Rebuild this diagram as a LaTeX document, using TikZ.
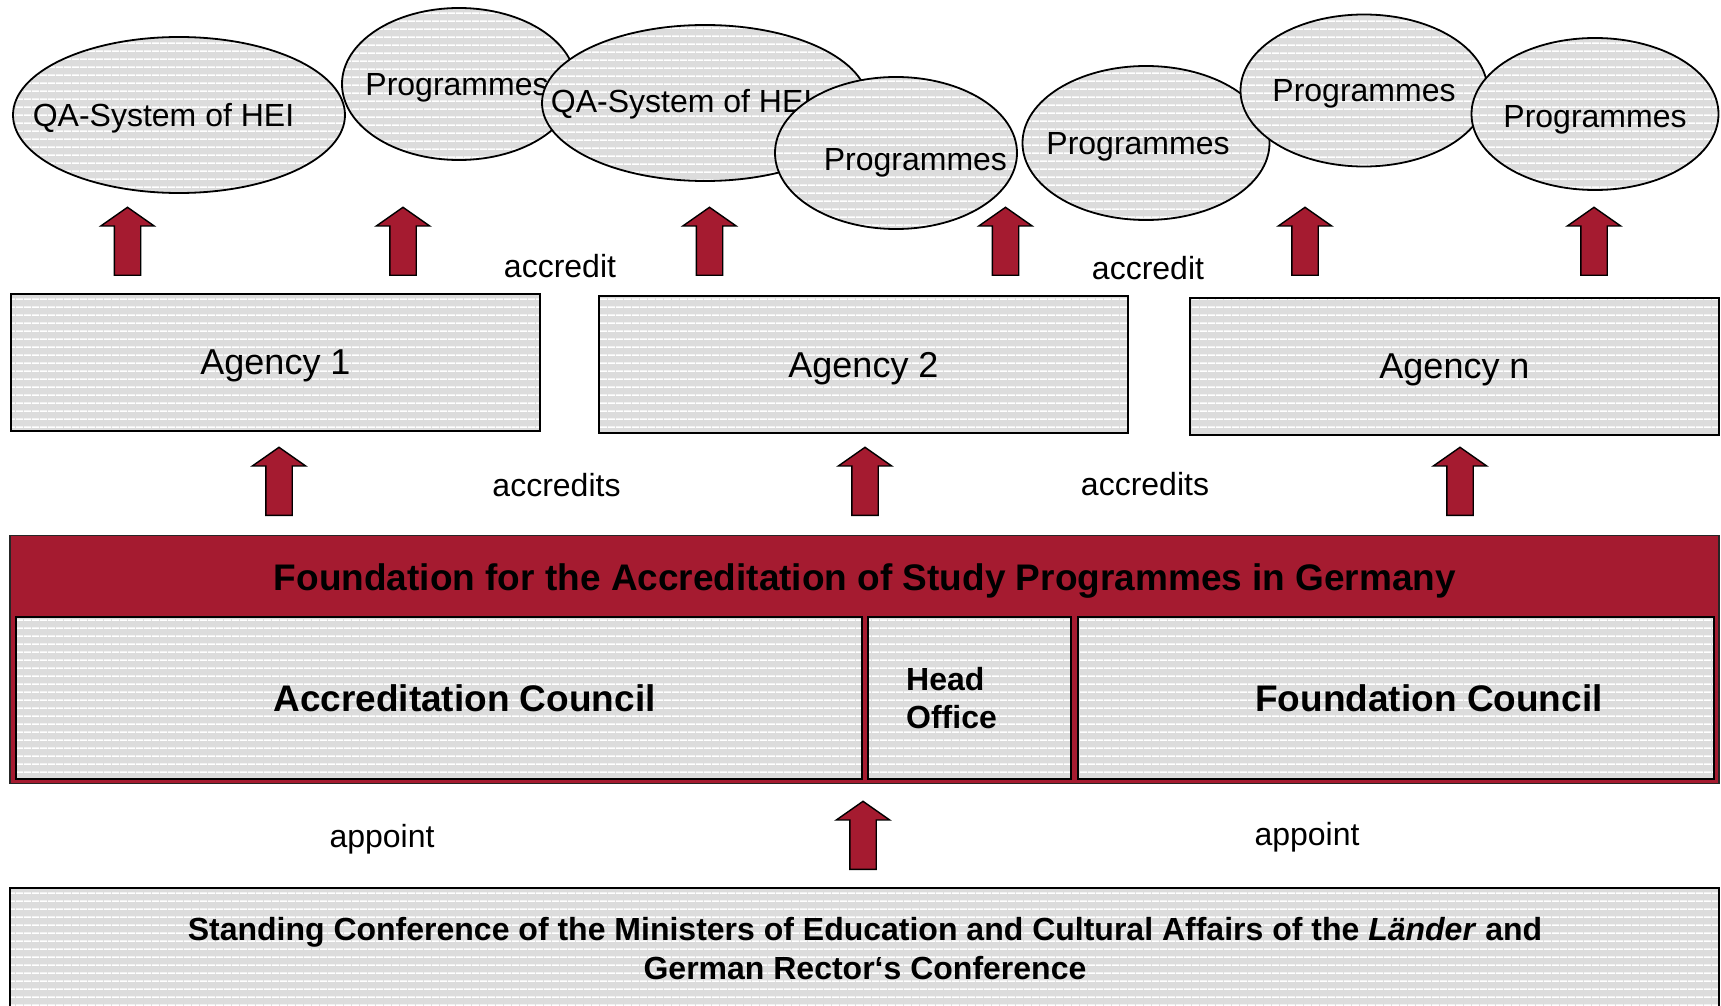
\documentclass[tikz,border=0pt]{standalone}
\usepackage{fontspec}
\setmainfont{Liberation Sans}
\usetikzlibrary{shapes.geometric, shapes.arrows, patterns, positioning}

\definecolor{fadred}{RGB}{165,27,48}
\definecolor{stripegray}{RGB}{220,220,220}

\pgfdeclarepatternformonly{hstripes}{\pgfpointorigin}{\pgfpoint{4pt}{3.75pt}}{\pgfpoint{4pt}{3.75pt}}%
{\pgfpathrectangle{\pgfpointorigin}{\pgfpoint{4pt}{0.8pt}}\pgfusepath{fill}}

\begin{document}
\begin{tikzpicture}[x=0.5pt, y=-0.5pt]
        \tikzstyle{striped} = [preaction={fill=stripegray}, pattern=hstripes, pattern color=white]
        \tikzstyle{txt} = [font=\fontsize{16}{19}\selectfont, text depth=0pt]
        \tikzstyle{bigbold} = [font=\bfseries\fontsize{18.5}{22}\selectfont, text depth=0pt]
        \tikzstyle{hei} = [ellipse, draw, line width=0.9pt, striped, inner sep=0pt]
        \tikzstyle{agency} = [rectangle, draw, line width=0.9pt, striped, minimum width=264.5pt, minimum height=68.5pt, text depth=0pt, font=\fontsize{18}{22}\selectfont]
        \tikzstyle{council} = [rectangle, draw, line width=1pt, striped, minimum height=81pt]
        \tikzstyle{uparrow} = [single arrow, draw, line width=0.7pt, fill=fadred, shape border rotate=90, minimum height=34pt, inner sep=6.25pt, single arrow head extend=6.75pt, single arrow tip angle=110, anchor=tail]

        \useasboundingbox (0,0) rectangle (1721,1006);

        % institutions and programmes
        \node (qa1) [hei, minimum width=166pt, minimum height=78pt, label={[txt, xshift=-7.75pt]center:QA-System of HEI}] at (179,115) {};
        \node (prog1) [hei, minimum width=117pt, minimum height=76pt, label={[txt, xshift=-1pt]center:Programmes}] at (459,84) {};
        \node (qa2) [hei, minimum width=163pt, minimum height=78pt, label={[txt, xshift=-11.7pt, yshift=1pt]center:QA-System of HEI}] at (705,103) {};
        \node (prog2) [hei, minimum width=121pt, minimum height=76pt, label={[txt, xshift=9.7pt, yshift=-3pt]center:Programmes}] at (896,153) {};
        \node (prog3) [hei, minimum width=123.5pt, minimum height=77pt, label={[txt, xshift=-4pt]center:Programmes}] at (1146,143) {};
        \node (prog4) [hei, minimum width=123.5pt, minimum height=76pt, label={[txt]center:Programmes}] at (1364,90.5) {};
        \node (prog5) [hei, minimum width=123.5pt, minimum height=76pt, label={[txt, yshift=-1pt]center:Programmes}] at (1595,114) {};

        % agencies
        \node (agency1) [agency] at (275.5,362.5) {Agency 1};
        \node (agency2) [agency] at (863.5,364.75) {Agency 2};
        \node (agencyn) [agency] at (1454.5,366.3) {Agency n};

        % foundation
        \node (foundation) [rectangle, draw=black!85, fill=fadred, line width=0.8pt, minimum width=854.5pt, minimum height=124pt] at (864.5,659.6) {};
        \node (title) [bigbold] at (865,577) {Foundation for the Accreditation of Study Programmes in Germany};
        \node (acccouncil) [council, minimum width=423pt, label={[bigbold, xshift=13pt]center:Accreditation Council}] at (438.5,698) {};
        \node (headoffice) [council, minimum width=101.5pt, label={[font=\bfseries\fontsize{16}{19}\selectfont, align=left, xshift=-9pt]center:Head\\Office}] at (969.5,698) {};
        \node (foundcouncil) [council, minimum width=318.25pt, label={[bigbold, xshift=16.5pt]center:Foundation Council}] at (1396,698) {};

        % conferences
        \node (kmk) [rectangle, draw, line width=1pt, striped, minimum width=854.5pt, minimum height=80pt, anchor=north] at (864.5,887) {};
        \node (kmktext) [align=center, font=\bfseries\fontsize{16}{19.25}\selectfont] at (865,948.8) {Standing Conference of the Ministers of Education and Cultural Affairs of the \textit{Länder} and\\German Rector‘s Conference};

        % arrows
        \node (up1) [uparrow] at (127.5,276) {};
        \node (up2) [uparrow] at (403,276) {};
        \node (up3) [uparrow] at (709.5,276) {};
        \node (up4) [uparrow] at (1005.5,276) {};
        \node (up5) [uparrow] at (1305,276) {};
        \node (up6) [uparrow] at (1594,276) {};
        \node (up7) [uparrow] at (279,516) {};
        \node (up8) [uparrow] at (865,516) {};
        \node (up9) [uparrow] at (1460,516) {};
        \node (up10) [uparrow] at (863,870) {};

        % relations
        \node (accredit1) [txt] at (560,265.6) {accredit};
        \node (accredit2) [txt] at (1148,268) {accredit};
        \node (accredits1) [txt] at (556.5,485) {accredits};
        \node (accredits2) [txt] at (1145,484) {accredits};
        \node (appoint1) [txt] at (382,836) {appoint};
        \node (appoint2) [txt] at (1307,834) {appoint};
\end{tikzpicture}
\end{document}
